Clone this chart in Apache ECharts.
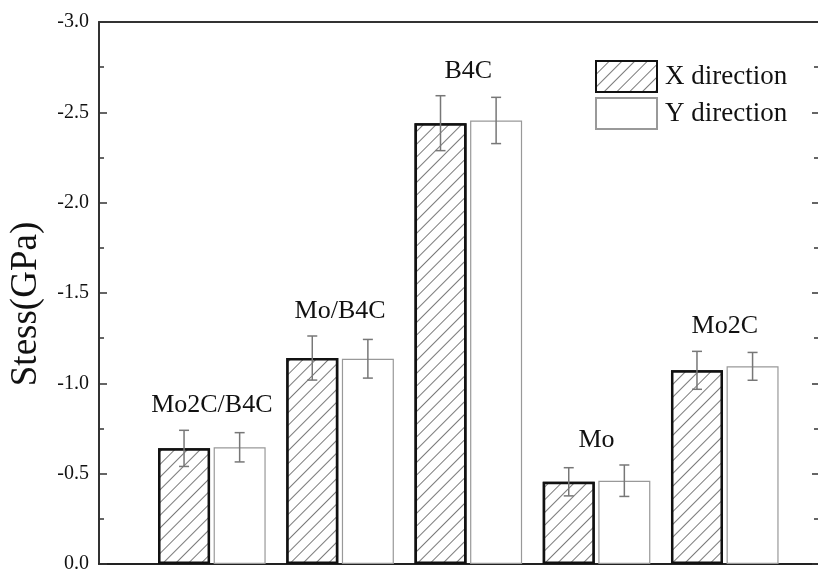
<!DOCTYPE html>
<html>
<head>
<meta charset="utf-8">
<script src="https://cdn.jsdelivr.net/npm/echarts@6/dist/echarts.min.js"></script>
<style>
  html, body { margin: 0; padding: 0; background: #fff; }
  #chart { width: 818px; height: 574px; }
</style>
</head>
<body>
<div id="chart"></div>
<script>
// ---- Data ----
const categories = ['Mo2C/B4C', 'Mo/B4C', 'B4C', 'Mo', 'Mo2C'];
const xDirection = [-0.640, -1.140, -2.440, -0.455, -1.072];
const yDirection = [-0.646, -1.136, -2.455, -0.461, -1.094];
const xError = [0.100, 0.122, 0.152, 0.078, 0.105];
const yError = [0.081, 0.107, 0.128, 0.087, 0.077];
const yTicks = [0.0, -0.5, -1.0, -1.5, -2.0, -2.5, -3.0];
const seriesNames = ['X direction', 'Y direction'];

const FONT = 'Liberation Serif, Times New Roman, serif';
const BAR_W = 52;
const BAR_GAP = 3.6;
const HALF = (BAR_W + BAR_GAP) / 2;

const xData = categories.map((c, i) => [i + 1, xDirection[i]]);
const yData = categories.map((c, i) => [i + 1, yDirection[i]]);
const xErrData = categories.map((c, i) => [i + 1, xDirection[i], xError[i]]);
const yErrData = categories.map((c, i) => [i + 1, yDirection[i], yError[i]]);
const labelData = categories.map((c, i) => [i + 1, Math.min(xDirection[i] - xError[i], yDirection[i] - yError[i])]);

function errRender(sign) {
  return function (params, api) {
    const x = api.value(0), v = api.value(1), e = api.value(2);
    const top = api.coord([x, v - e]);
    const bot = api.coord([x, v + e]);
    const cx = top[0] + sign * HALF;
    const cap = 5;
    const style = { stroke: '#777', lineWidth: 1.5, fill: null };
    return {
      type: 'group',
      children: [
        { type: 'line', shape: { x1: cx, y1: top[1], x2: cx, y2: bot[1] }, style: style },
        { type: 'line', shape: { x1: cx - cap, y1: top[1], x2: cx + cap, y2: top[1] }, style: style },
        { type: 'line', shape: { x1: cx - cap, y1: bot[1], x2: cx + cap, y2: bot[1] }, style: style }
      ]
    };
  };
}

const chart = echarts.init(document.getElementById('chart'), null, { renderer: 'canvas' });

const hatch = {
  symbol: 'rect',
  symbolSize: 1,
  dashArrayX: [1, 0],
  dashArrayY: [1, 8],
  rotation: -Math.PI / 4,
  color: '#7a7a7a',
  backgroundColor: '#ffffff'
};

const option = {
  backgroundColor: '#ffffff',
  animation: false,
  grid: { left: 99, right: -1, top: 22, bottom: 7, containLabel: false },
  legend: {
    data: seriesNames,
    orient: 'vertical',
    left: 590,
    top: 55,
    itemWidth: 61,
    itemHeight: 31,
    itemGap: 4,
    icon: 'rect',
    textStyle: { fontFamily: FONT, fontSize: 27, color: '#111', padding: [0, 0, 0, 3] }
  },
  xAxis: [
    {
      type: 'value', min: 0.12, max: 5.727, position: 'bottom',
      axisLine: { show: true, onZero: false, lineStyle: { color: '#222', width: 2 } },
      axisTick: { show: false }, axisLabel: { show: false }, splitLine: { show: false }
    },
    {
      type: 'value', min: 0.12, max: 5.727, position: 'top',
      axisLine: { show: true, onZero: false, lineStyle: { color: '#333', width: 2 } },
      axisTick: { show: false }, axisLabel: { show: false }, splitLine: { show: false }
    }
  ],
  yAxis: [
    {
      type: 'value', min: yTicks[yTicks.length - 1], max: yTicks[0], interval: 0.5, inverse: true,
      position: 'left',
      name: 'Stess(GPa)', nameLocation: 'middle', nameGap: 54,
      nameTextStyle: { fontFamily: FONT, fontSize: 37, color: '#111', padding: [0, 22, 0, 0] },
      axisLine: { show: true, onZero: false, lineStyle: { color: '#333', width: 2 } },
      axisTick: { show: true, inside: true, length: 8, lineStyle: { color: '#333', width: 1.5 } },
      minorTick: { show: true, splitNumber: 2, length: 5, lineStyle: { color: '#333', width: 1.5 } },
      axisLabel: { fontFamily: FONT, fontSize: 20, color: '#111', margin: 10, formatter: v => v.toFixed(1) },
      splitLine: { show: false }
    },
    {
      type: 'value', min: yTicks[yTicks.length - 1], max: yTicks[0], interval: 0.5, inverse: true,
      position: 'right',
      axisLine: { show: false },
      axisTick: { show: true, inside: true, length: 6, lineStyle: { color: '#333', width: 1.5 } },
      minorTick: { show: true, splitNumber: 2, length: 4, lineStyle: { color: '#333', width: 1.5 } },
      axisLabel: { show: false },
      splitLine: { show: false }
    }
  ],
  series: [
    {
      name: seriesNames[0], type: 'bar', data: xData,
      barWidth: BAR_W, barGap: (BAR_GAP / BAR_W * 100).toFixed(1) + '%',
      itemStyle: { color: '#ffffff', borderColor: '#111', borderWidth: 2.5, decal: hatch },
      z: 2
    },
    {
      name: seriesNames[1], type: 'bar', data: yData,
      barWidth: BAR_W,
      itemStyle: { color: '#ffffff', borderColor: '#999', borderWidth: 1.2 },
      z: 2
    },
    { type: 'custom', data: xErrData, renderItem: errRender(-1), z: 5, silent: true },
    { type: 'custom', data: yErrData, renderItem: errRender(1), z: 5, silent: true },
    {
      type: 'custom', data: labelData, z: 6, silent: true,
      renderItem: function (params, api) {
        const p = api.coord([api.value(0), api.value(1)]);
        return {
          type: 'text',
          x: p[0], y: p[1] - 25,
          style: {
            text: categories[params.dataIndex],
            fontFamily: FONT, fontSize: 26, fill: '#111',
            align: 'center', verticalAlign: 'middle'
          }
        };
      }
    }
  ]
};

chart.setOption(option);
</script>
</body>
</html>
